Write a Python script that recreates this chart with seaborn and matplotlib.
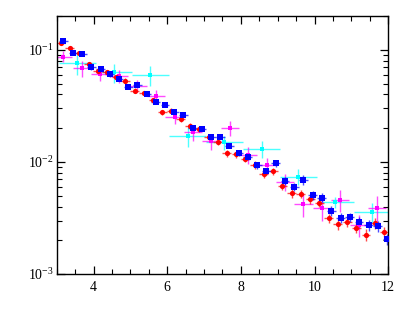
import numpy as np
import pandas as pd
import matplotlib
matplotlib.use('Agg')
import matplotlib.pyplot as plt
import seaborn as sns
from matplotlib.ticker import LogLocator, MultipleLocator, NullFormatter

# red series (circles)
red_x = [3.10, 3.35, 3.60, 3.86, 4.11, 4.36, 4.61, 4.86, 5.11, 5.36, 5.61, 5.86,
         6.11, 6.36, 6.61, 6.86, 7.12, 7.37, 7.62, 7.87, 8.12, 8.37, 8.62, 8.88,
         9.13, 9.38, 9.63, 9.88, 10.13, 10.38, 10.63, 10.89, 11.14, 11.40, 11.65, 11.90]
red_y = [0.114, 0.103, 0.0935, 0.075, 0.065, 0.0628, 0.057, 0.0532, 0.0433, 0.0413, 0.0353, 0.0276,
         0.0287, 0.024, 0.0209, 0.0197, 0.0168, 0.0151, 0.0119, 0.0117, 0.0106, 0.0094, 0.0078, 0.0083,
         0.0061, 0.00526, 0.00518, 0.00464, 0.00434, 0.00314, 0.00279, 0.00293, 0.00259, 0.00224, 0.00284, 0.00239]
red_yerr = [0.004, 0.004, 0.004, 0.003, 0.003, 0.003, 0.0025, 0.0025, 0.002, 0.002, 0.0018, 0.0015,
            0.0015, 0.0013, 0.0012, 0.0011, 0.001, 0.0009, 0.0008, 0.0008, 0.0007, 0.0007, 0.0006, 0.0006,
            0.0005, 0.00045, 0.00045, 0.0004, 0.0004, 0.0003, 0.0003, 0.0003, 0.00028, 0.00026, 0.0003, 0.00025]

# blue series (squares)
blue_x = [3.18, 3.44, 3.69, 3.94, 4.19, 4.44, 4.69, 4.94, 5.19, 5.44, 5.69, 5.94,
          6.19, 6.44, 6.69, 6.94, 7.19, 7.44, 7.69, 7.94, 8.19, 8.44, 8.69, 8.95,
          9.20, 9.45, 9.70, 9.95, 10.20, 10.46, 10.71, 10.96, 11.21, 11.47, 11.72, 11.97]
blue_y = [0.1196, 0.0934, 0.092, 0.0695, 0.068, 0.0602, 0.0547, 0.0465, 0.0487, 0.0405, 0.0341, 0.0325,
          0.0277, 0.0261, 0.0202, 0.0197, 0.0168, 0.0168, 0.0140, 0.0119, 0.0110, 0.00933, 0.00831, 0.00973,
          0.0068, 0.00598, 0.0069, 0.00507, 0.0048, 0.00367, 0.00318, 0.00321, 0.00291, 0.00272, 0.00269, 0.00204]
blue_yerr = [0.005, 0.004, 0.004, 0.003, 0.003, 0.003, 0.0025, 0.002, 0.002, 0.0018, 0.0015, 0.0015,
             0.0013, 0.0012, 0.001, 0.001, 0.0009, 0.0009, 0.0008, 0.0007, 0.0007, 0.0006, 0.0006, 0.0007,
             0.0006, 0.0005, 0.0007, 0.00045, 0.00045, 0.00035, 0.0003, 0.0003, 0.0003, 0.0003, 0.0003, 0.00022]

# magenta series
mag_x = [3.17, 3.68, 4.18, 4.68, 5.19, 5.69, 6.20, 6.70, 7.20,
         7.70, 8.20, 8.70, 9.20, 9.70, 10.20, 10.70, 11.21, 11.70]
mag_y = [0.0871, 0.0686, 0.061, 0.0586, 0.0477, 0.0391, 0.0254, 0.0183, 0.0154,
         0.0200, 0.01155, 0.00933, 0.00667, 0.00422, 0.00387, 0.00458, 0.00274, 0.00387]
mag_yerr = [0.01, 0.011, 0.008, 0.008, 0.006, 0.005, 0.0035, 0.0028, 0.0025,
            0.003, 0.002, 0.0015, 0.0012, 0.001, 0.0009, 0.001, 0.0006, 0.0011]

# cyan series
cyan_x = [3.55, 4.55, 5.54, 6.56, 7.55, 8.56, 9.56, 10.56, 11.56]
cyan_y = [0.077, 0.0628, 0.0598, 0.0171, 0.0149, 0.0131, 0.0074, 0.00436, 0.00358]
cyan_yerr = [0.018, 0.012, 0.012, 0.0035, 0.002, 0.0022, 0.0012, 0.0005, 0.0007]

series = [
    ('cyan', cyan_x, cyan_y, cyan_yerr, 0.5, '#00ffff', 's', 5),
    ('magenta', mag_x, mag_y, mag_yerr, 0.25, '#ff00ff', 's', 5),
    ('red', red_x, red_y, red_yerr, 0.12, '#ff0000', 'o', 14),
    ('blue', blue_x, blue_y, blue_yerr, 0.12, '#0000ff', 's', 18),
]

sns.set_theme(style='ticks')
plt.rcParams['font.family'] = ['Liberation Serif', 'DejaVu Serif']
plt.rcParams['mathtext.fontset'] = 'stix'

fig = plt.figure(figsize=(4.09, 3.27), dpi=100)
ax = fig.add_axes([0.139, 0.162, 0.810, 0.789])

for name, x, y, yerr, xerr, color, marker, size in series:
    ax.errorbar(x, y, yerr=yerr, xerr=xerr, fmt='none', ecolor=color,
                elinewidth=1.0, alpha=0.7, capsize=0, zorder=2)
    df = pd.DataFrame({'x': x, 'y': y})
    sns.scatterplot(data=df, x='x', y='y', ax=ax, color=color, marker=marker,
                    s=size, linewidth=0, zorder=3, legend=False)

ax.set_yscale('log')
ax.set_xlim(3, 12)
ax.set_ylim(1e-3, 0.2)
ax.set_xlabel('')
ax.set_ylabel('')

ax.xaxis.set_major_locator(MultipleLocator(2))
ax.xaxis.set_minor_locator(MultipleLocator(0.5))
ax.yaxis.set_major_locator(LogLocator(base=10, numticks=10))
ax.yaxis.set_minor_locator(LogLocator(base=10, subs=np.arange(2, 10), numticks=20))
ax.yaxis.set_minor_formatter(NullFormatter())

ax.tick_params(which='both', direction='in', top=True, right=True, colors='black')
ax.tick_params(which='major', length=6, width=0.9, labelsize=10)
ax.tick_params(which='minor', length=3.3, width=0.8)
ax.tick_params(axis='x', which='major', pad=5)
ax.tick_params(axis='y', which='major', pad=2)
for s in ax.spines.values():
    s.set_linewidth(1.0)
    s.set_color('black')

fig.savefig('out.png', dpi=100)
